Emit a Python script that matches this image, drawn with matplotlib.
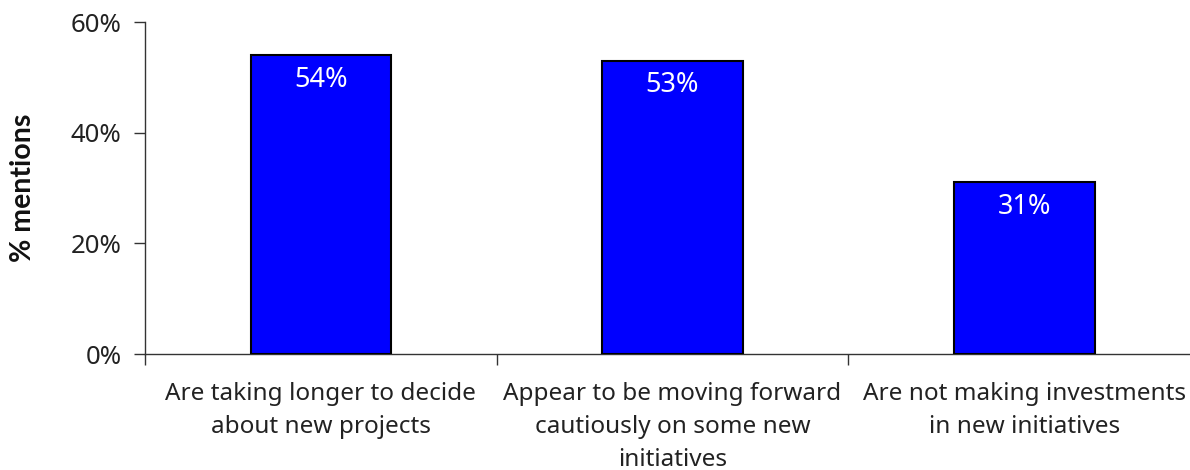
import matplotlib
matplotlib.use("Agg")
import matplotlib.pyplot as plt
from matplotlib.ticker import FuncFormatter, FixedLocator

plt.rcParams['font.family'] = ['Noto Sans', 'DejaVu Sans']

categories = [
    "Are taking longer to decide\nabout new projects",
    "Appear to be moving forward\ncautiously on some new\ninitiatives",
    "Are not making investments\nin new initiatives",
]
values = [54, 53, 31]
y_ticks = [0, 20, 40, 60]

fig = plt.figure(figsize=(11.9, 4.7), dpi=100)
ax = fig.add_axes([145 / 1190, 1 - 354 / 470, 1055 / 1190, 332 / 470])

x = list(range(len(categories)))
ax.bar(x, values, width=0.4, color="#0000FF", edgecolor="black", linewidth=1.5, zorder=3)

for xi, v in zip(x, values):
    ax.annotate(f"{v}%", xy=(xi, v), xytext=(0, -7.5), textcoords="offset points",
                ha="center", va="top", color="white", fontsize=19.5)

ax.set_xlim(-0.5, len(categories) - 0.5)
ax.set_ylim(0, 60)
ax.yaxis.set_major_locator(FixedLocator(y_ticks))
ax.yaxis.set_major_formatter(FuncFormatter(lambda v, p: f"{v:.0f}%"))

# category boundaries carry the tick marks; labels sit at the centres
ax.set_xticks([i - 0.5 for i in range(len(categories) + 1)])
ax.set_xticklabels([])
ax.set_xticks(x, minor=True)
ax.set_xticklabels(categories, minor=True, fontsize=17.5, color="#222222", linespacing=1.5)
ax.tick_params(axis="x", which="minor", length=0, pad=20)
ax.tick_params(axis="x", which="major", direction="out", length=8, width=1, color="#333333")
ax.tick_params(axis="y", direction="out", length=8, width=1, color="#333333",
               labelsize=18.5, labelcolor="#222222", pad=9)

for side in ("top", "right"):
    ax.spines[side].set_visible(False)
for side in ("left", "bottom"):
    ax.spines[side].set_linewidth(1)
    ax.spines[side].set_color("#333333")

ax.set_ylabel("% mentions", fontsize=20.5, fontweight="bold", family=["Lato", "DejaVu Sans"],
              color="#111111", labelpad=25)

fig.savefig("out.png", dpi=100)
